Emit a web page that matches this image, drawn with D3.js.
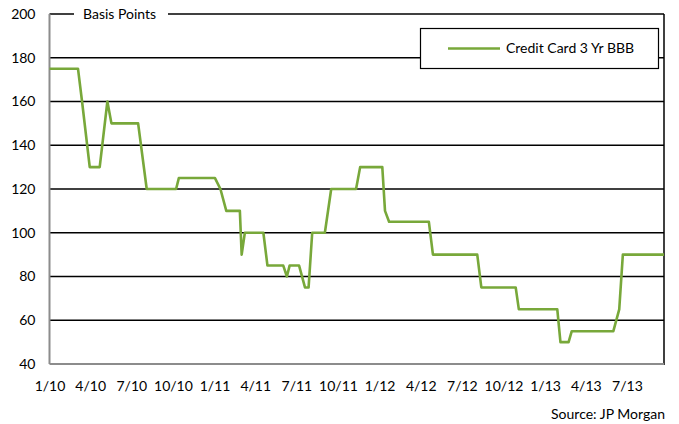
<!DOCTYPE html>
<html><head><meta charset="utf-8">
<script src="https://cdn.jsdelivr.net/npm/d3@7"></script>
<style>body{margin:0;background:#fff;} svg{display:block;font-family:Lato, "Open Sans", sans-serif;}</style>
</head><body><div id="chart"></div>
<script>
const dates = ["2010-01-01","2010-03-05","2010-03-14","2010-03-31","2010-04-22","2010-05-09","2010-05-18","2010-07-16","2010-08-04","2010-10-08","2010-10-14","2011-01-02","2011-01-14","2011-01-27","2011-02-26","2011-03-02","2011-03-09","2011-04-19","2011-04-28","2011-06-02","2011-06-10","2011-06-16","2011-07-07","2011-07-20","2011-07-28","2011-08-05","2011-09-02","2011-09-16","2011-11-10","2011-11-19","2012-01-07","2012-01-13","2012-01-22","2012-04-19","2012-04-28","2012-08-04","2012-08-13","2012-10-28","2012-11-04","2013-01-28","2013-02-04","2013-02-22","2013-03-01","2013-06-01","2013-06-14","2013-06-22","2013-09-21"];
const spreads = [175,175,160,130,130,160,150,150,120,120,125,125,120,110,110,90,100,100,85,85,80,85,85,75,75,100,100,120,120,130,130,110,105,105,90,90,75,75,65,65,50,50,55,55,65,90,90];
const seriesName = "Credit Card 3 Yr BBB";
const yTicks = [40,60,80,100,120,140,160,180,200];
const xTickDates = ["2010-01-01","2010-04-01","2010-07-01","2010-10-01","2011-01-01","2011-04-01","2011-07-01","2011-10-01","2012-01-01","2012-04-01","2012-07-01","2012-10-01","2013-01-01","2013-04-01","2013-07-01"];
const xTickLabels = ["1/10","4/10","7/10","10/10","1/11","4/11","7/11","10/11","1/12","4/12","7/12","10/12","1/13","4/13","7/13"];
const yTitle = "Basis Points";
const source = "Source: JP Morgan";

(function(){
const W = 679, H = 424;
const FS = 14;
const parse = d3.timeParse("%Y-%m-%d");
const data = dates.map((d,i)=>({date:parse(d), v:spreads[i]}));
const pLeft = 49.5, pRight = 664, pTop = 14, pBottom = 364;
const x = d3.scaleTime().domain([parse("2010-01-01"), parse("2013-09-21")]).range([pLeft, pRight]);
const y = d3.scaleLinear().domain([40,200]).range([pBottom, pTop]);

const svg = d3.select("#chart").append("svg").attr("width", W).attr("height", H);

// gridlines
svg.append("g").selectAll("line").data(yTicks.filter(t=>t>40)).join("line")
  .attr("x1", pLeft).attr("x2", pRight)
  .attr("y1", d=>y(d)).attr("y2", d=>y(d))
  .attr("stroke", "#000").attr("stroke-width", 1.4);

// y axis labels
const yAxis = d3.axisLeft(y).tickValues(yTicks).tickSize(0).tickPadding(14);
const gy = svg.append("g").attr("transform", `translate(${pLeft},0)`).call(yAxis);
gy.select(".domain").remove();
gy.selectAll("text").attr("font-size", FS).attr("fill", "#000").attr("font-family", "Lato, sans-serif");

// x axis labels
const xAxis = d3.axisBottom(x).tickValues(xTickDates.map(parse)).tickSize(0).tickPadding(17)
  .tickFormat((d,i)=>xTickLabels[i]);
const gx = svg.append("g").attr("transform", `translate(0,${pBottom})`).call(xAxis);
gx.select(".domain").remove();
gx.selectAll("text").attr("font-size", FS).attr("fill", "#000").attr("font-family", "Lato, sans-serif");

// right border
svg.append("line").attr("x1", pRight).attr("x2", pRight).attr("y1", y(200)).attr("y2", pBottom+1)
  .attr("stroke", "#000").attr("stroke-width", 1.5);
// left & bottom axis lines (grey)
svg.append("line").attr("x1", pLeft).attr("x2", pLeft).attr("y1", y(200)).attr("y2", pBottom)
  .attr("stroke", "#8c8c8c").attr("stroke-width", 2);
svg.append("line").attr("x1", pLeft).attr("x2", pRight).attr("y1", pBottom).attr("y2", pBottom)
  .attr("stroke", "#8c8c8c").attr("stroke-width", 2);

// y title with white background
svg.append("rect").attr("x", 74).attr("y", 5).attr("width", 94).attr("height", 18).attr("fill", "#fff");
svg.append("text").attr("x", 83).attr("y", 19).attr("font-size", FS).text(yTitle);

// series line
svg.append("path").datum(data)
  .attr("fill", "none").attr("stroke", "#78a83a").attr("stroke-width", 2.6)
  .attr("stroke-linejoin", "round")
  .attr("d", d3.line().x(d=>x(d.date)).y(d=>y(d.v)));

// legend
const lg = svg.append("g");
lg.append("rect").attr("x", 420.5).attr("y", 28.5).attr("width", 238).attr("height", 40)
  .attr("fill", "#fff").attr("stroke", "#000").attr("stroke-width", 1.2);
lg.append("line").attr("x1", 448).attr("x2", 500).attr("y1", 48.5).attr("y2", 48.5)
  .attr("stroke", "#78a83a").attr("stroke-width", 2.6);
lg.append("text").attr("x", 506).attr("y", 53).attr("font-size", FS).text(seriesName);

// source
svg.append("text").attr("x", 665).attr("y", 419).attr("text-anchor", "end").attr("font-size", FS).text(source);
})();
</script></body></html>
